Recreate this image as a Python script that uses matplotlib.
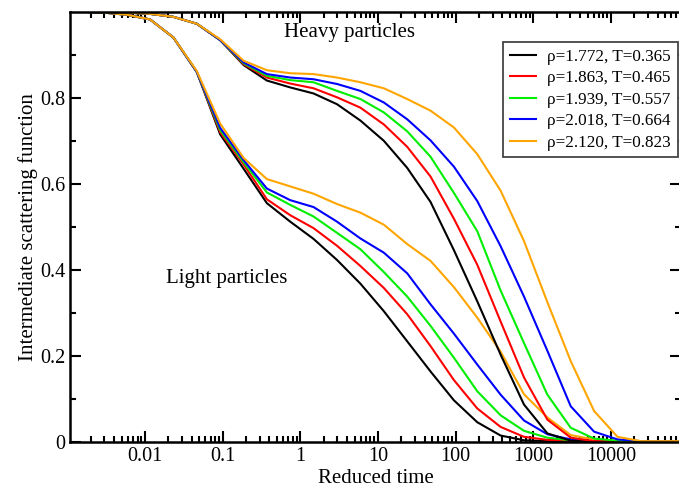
import numpy as np
import matplotlib
matplotlib.use('Agg')
import matplotlib.pyplot as plt
from matplotlib.ticker import LogLocator, NullFormatter, FixedLocator

plt.rcParams['font.family'] = ['Liberation Serif', 'DejaVu Serif']

# Time grid (reduced time), roughly doubling at each point
t = [0.000725, 0.00145, 0.0029, 0.0058, 0.0116, 0.0232, 0.0464, 0.0928, 0.186, 0.371, 0.742,
     1.48, 2.97, 5.94, 11.9, 23.8, 47.5, 95.0, 190.0, 380.0, 760.0, 1520.0, 3040.0,
     6080.0, 12160.0, 24300.0, 48600.0, 97300.0]

labels = ['ρ=1.772, T=0.365', 'ρ=1.863, T=0.465', 'ρ=1.939, T=0.557',
          'ρ=2.018, T=0.664', 'ρ=2.120, T=0.823']
colors = ['black', 'red', '#00ee00', 'blue', 'orange']

# Heavy particles
heavy_1 = [1.0, 1.0, 0.999, 0.998, 0.995, 0.988, 0.972, 0.934, 0.876, 0.840, 0.824, 0.810, 0.785,
           0.747, 0.700, 0.637, 0.558, 0.446, 0.327, 0.203, 0.087, 0.020, 0.003, 0.001, 0.001,
           0.002, 0.002, 0.002]
heavy_2 = [1.0, 1.0, 0.999, 0.998, 0.995, 0.988, 0.972, 0.934, 0.878, 0.847, 0.833, 0.822, 0.801,
           0.777, 0.738, 0.686, 0.617, 0.519, 0.412, 0.280, 0.150, 0.052, 0.010, 0.002, 0.002,
           0.002, 0.002, 0.002]
heavy_3 = [1.0, 1.0, 0.999, 0.998, 0.995, 0.988, 0.972, 0.934, 0.880, 0.851, 0.841, 0.836, 0.816,
           0.797, 0.766, 0.722, 0.663, 0.579, 0.490, 0.352, 0.230, 0.110, 0.033, 0.008, 0.003,
           0.002, 0.002, 0.002]
heavy_4 = [1.0, 1.0, 0.999, 0.998, 0.995, 0.988, 0.972, 0.934, 0.882, 0.855, 0.847, 0.843, 0.832,
           0.816, 0.789, 0.750, 0.701, 0.640, 0.560, 0.455, 0.338, 0.212, 0.083, 0.024, 0.006,
           0.002, 0.002, 0.002]
heavy_5 = [1.0, 1.0, 0.999, 0.998, 0.995, 0.988, 0.972, 0.936, 0.886, 0.864, 0.857, 0.855, 0.847,
           0.836, 0.822, 0.797, 0.770, 0.731, 0.669, 0.584, 0.467, 0.325, 0.188, 0.072, 0.012,
           0.002, 0.002, 0.002]

# Light particles
light_1 = [1.0, 1.0, 0.998, 0.993, 0.982, 0.940, 0.860, 0.715, 0.635, 0.555, 0.512, 0.472, 0.423,
           0.368, 0.304, 0.234, 0.164, 0.097, 0.046, 0.015, 0.004, 0.002, 0.002, 0.002, 0.002,
           0.002, 0.002, 0.002]
light_2 = [1.0, 1.0, 0.998, 0.993, 0.982, 0.940, 0.860, 0.720, 0.645, 0.564, 0.527, 0.497, 0.456,
           0.409, 0.358, 0.297, 0.223, 0.144, 0.078, 0.035, 0.012, 0.005, 0.003, 0.002, 0.002,
           0.002, 0.002, 0.002]
light_3 = [1.0, 1.0, 0.998, 0.993, 0.982, 0.940, 0.860, 0.725, 0.650, 0.580, 0.551, 0.524, 0.486,
           0.448, 0.395, 0.338, 0.270, 0.196, 0.118, 0.062, 0.026, 0.010, 0.004, 0.002, 0.002,
           0.002, 0.002, 0.002]
light_4 = [1.0, 1.0, 0.998, 0.993, 0.982, 0.940, 0.860, 0.730, 0.655, 0.589, 0.562, 0.546, 0.512,
           0.473, 0.440, 0.392, 0.320, 0.252, 0.180, 0.110, 0.050, 0.018, 0.006, 0.002, 0.002,
           0.002, 0.002, 0.002]
light_5 = [1.0, 1.0, 0.998, 0.993, 0.982, 0.940, 0.862, 0.740, 0.660, 0.611, 0.594, 0.577, 0.553,
           0.533, 0.505, 0.460, 0.421, 0.360, 0.289, 0.210, 0.111, 0.057, 0.016, 0.006, 0.002,
           0.002, 0.002, 0.002]

heavy = [heavy_1, heavy_2, heavy_3, heavy_4, heavy_5]
light = [light_1, light_2, light_3, light_4, light_5]

fig = plt.figure(figsize=(6.79, 4.87), dpi=100)
ax = fig.add_axes([70 / 679, 1 - 442 / 487, 611 / 679, 430.3 / 487])

for i in range(5):
    ax.plot(t, light[i], color=colors[i], lw=1.5)
for i in range(5):
    ax.plot(t, heavy[i], color=colors[i], lw=1.5, label=labels[i])

ax.set_xscale('log')
ax.set_xlim(0.00108, 80000)
ax.set_ylim(0, 1.0)

# ticks on all sides, pointing in
ax.xaxis.set_major_locator(FixedLocator([0.001, 0.01, 0.1, 1, 10, 100, 1000, 10000]))
ax.xaxis.set_minor_locator(LogLocator(base=10, subs=np.arange(2, 10), numticks=20))
ax.xaxis.set_minor_formatter(NullFormatter())
ax.set_xticklabels(['0.001', '0.01', '0.1', '1', '10', '100', '1000', '10000'])
ax.set_yticks([0, 0.2, 0.4, 0.6, 0.8])
ax.set_yticklabels(['0', '0.2', '0.4', '0.6', '0.8'])
ax.set_yticks([0.1, 0.3, 0.5, 0.7, 0.9], minor=True)
ax.tick_params(which='both', direction='in', top=True, right=True, width=1.5, labelsize=14.5)
ax.tick_params(which='major', length=8)
ax.tick_params(which='minor', length=4)
for s in ax.spines.values():
    s.set_linewidth(1.8)

ax.set_xlabel('Reduced time', fontsize=15, labelpad=2)
ax.set_ylabel('Intermediate scattering function', fontsize=15, labelpad=1)

# annotations placed in pixel coordinates of the figure (origin bottom-left)
ax.text(349, 487 - 33, 'Heavy particles', fontsize=15, ha='center', va='center', transform=None)
ax.text(227, 487 - 278, 'Light particles', fontsize=15, ha='center', va='center', transform=None)

leg = ax.legend(loc='upper right', bbox_to_anchor=(0.995, 0.93), borderaxespad=0,
                fontsize=12.3, fancybox=False, handlelength=1.5, handletextpad=0.7,
                labelspacing=0.32, borderpad=0.4, framealpha=1)
leg.get_frame().set_edgecolor('#444444')
leg.get_frame().set_linewidth(1.3)

plt.savefig('out.png', dpi=100)
